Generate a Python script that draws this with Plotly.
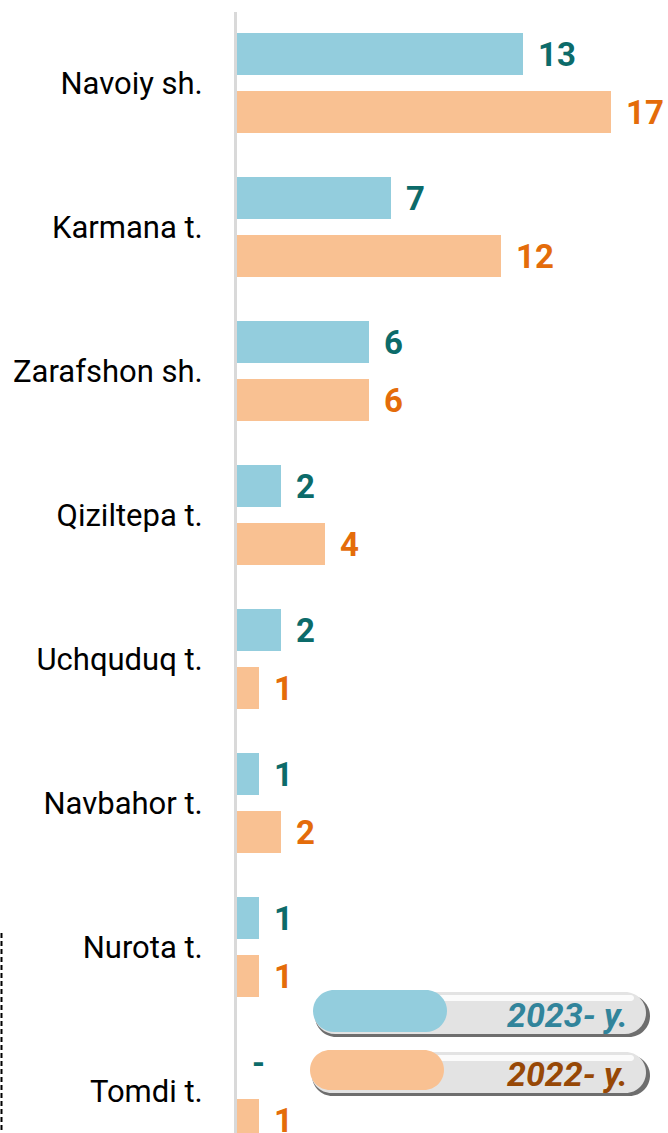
import plotly.graph_objects as go

categories = ["Navoiy sh.", "Karmana t.", "Zarafshon sh.", "Qiziltepa t.",
              "Uchquduq t.", "Navbahor t.", "Nurota t.", "Tomdi t."]
values_2023 = [13, 7, 6, 2, 2, 1, 1, 0]
values_2022 = [17, 12, 6, 4, 1, 2, 1, 1]
series_names = ["2023- y.", "2022- y."]

W, H = 668, 1133
ML, MR, MT, MB = 237, 0, 12, 0
PW, PH = W - ML - MR, H - MT - MB

BLUE, ORANGE = "#93CDDD", "#F9C192"
BLUE_TXT, ORANGE_TXT = "#0C6B6A", "#E46C0A"
LEG_BLUE_TXT, LEG_ORANGE_TXT = "#31849B", "#974806"
FONT = "Roboto, sans-serif"

fig = go.Figure()
fig.add_trace(go.Bar(y=categories, x=values_2023, orientation="h", name=series_names[0],
                     marker=dict(color=BLUE, line=dict(width=0)), hoverinfo="x+y"))
fig.add_trace(go.Bar(y=categories, x=values_2022, orientation="h", name=series_names[1],
                     marker=dict(color=ORANGE, line=dict(width=0)), hoverinfo="x+y"))

annotations = []
for cat, v in zip(categories, values_2023):
    annotations.append(dict(x=v, y=cat, xref="x", yref="y", text=str(v) if v else "-",
                            showarrow=False, xanchor="left", yanchor="middle",
                            xshift=13, yshift=29,
                            font=dict(family=FONT, size=33, color=BLUE_TXT, weight="bold")))
for cat, v in zip(categories, values_2022):
    annotations.append(dict(x=v, y=cat, xref="x", yref="y", text=str(v) if v else "-",
                            showarrow=False, xanchor="left", yanchor="middle",
                            xshift=13, yshift=-29,
                            font=dict(family=FONT, size=33, color=ORANGE_TXT, weight="bold")))

def px(x):
    return (x - ML) / PW

def py(y):
    return 1 - (y - MT) / PH

def pill(x0, y0, x1, y1):
    r = (y1 - y0) / 2
    k = 0.5523 * r
    cy = (y0 + y1) / 2
    d = f"M{px(x0 + r)},{py(y0)} L{px(x1 - r)},{py(y0)} "
    d += f"C{px(x1 - r + k)},{py(y0)} {px(x1)},{py(cy - k)} {px(x1)},{py(cy)} "
    d += f"C{px(x1)},{py(cy + k)} {px(x1 - r + k)},{py(y1)} {px(x1 - r)},{py(y1)} "
    d += f"L{px(x0 + r)},{py(y1)} "
    d += f"C{px(x0 + r - k)},{py(y1)} {px(x0)},{py(cy + k)} {px(x0)},{py(cy)} "
    d += f"C{px(x0)},{py(cy - k)} {px(x0 + r - k)},{py(y0)} {px(x0 + r)},{py(y0)} Z"
    return d

shapes = []
legend_rows = [
    (series_names[0], BLUE, LEG_BLUE_TXT, 313, 990, 1032, 447, 992, 1035),
    (series_names[1], ORANGE, LEG_ORANGE_TXT, 310, 1050, 1090, 444, 1052, 1094),
]
for name, col, tcol, x0, y0, y1, xb, gy0, gy1 in legend_rows:
    shapes.append(dict(type="path", xref="paper", yref="paper", path=pill(x0 + 2, gy0 + 3, 650, gy1 + 2),
                       fillcolor="#6E6E6E", line=dict(width=0), layer="above"))
    shapes.append(dict(type="path", xref="paper", yref="paper", path=pill(x0 + 1, gy0, 646, gy1 - 1),
                       fillcolor="#E3E3E3", line=dict(width=0), layer="above"))
    shapes.append(dict(type="path", xref="paper", yref="paper", path=pill(x0 + 10, gy0 + 3, 634, gy0 + 9),
                       fillcolor="rgba(255,255,255,0.85)", line=dict(width=0), layer="above"))
    shapes.append(dict(type="path", xref="paper", yref="paper", path=pill(x0, y0, xb, y1),
                       fillcolor=col, line=dict(width=0), layer="above"))
    annotations.append(dict(x=px(630), y=py((gy0 + gy1) / 2 + 1), xref="paper", yref="paper",
                            text=f"<i>{name}</i>", showarrow=False, xanchor="right", yanchor="middle",
                            font=dict(family=FONT, size=34, color=tcol, weight="bold")))

shapes.append(dict(type="line", xref="paper", yref="paper", x0=px(1.5), x1=px(1.5), y0=py(933), y1=py(1133),
                   line=dict(color="#000000", width=2, dash="5px,3px")))

fig.update_layout(
    width=W, height=H,
    margin=dict(l=ML, r=MR, t=MT, b=MB, pad=0, autoexpand=False),
    paper_bgcolor="white", plot_bgcolor="white",
    barmode="group", bargap=0.194, bargroupgap=0.276,
    showlegend=False,
    font=dict(family=FONT),
    xaxis=dict(range=[0, PW / 22.0], visible=False, fixedrange=True, automargin=False),
    yaxis=dict(range=[(H - 83) / 144.0, (MT - 83) / 144.0], showline=True, linecolor="#D9D9D9",
               linewidth=3, showgrid=False, zeroline=False, ticks="", automargin=False,
               ticklabelstandoff=25,
               tickfont=dict(family=FONT, size=31, color="#000000")),
    annotations=annotations,
    shapes=shapes,
)

fig.write_html("out.html", config={"displayModeBar": False},
               post_script="document.body.style.margin='0px';")
